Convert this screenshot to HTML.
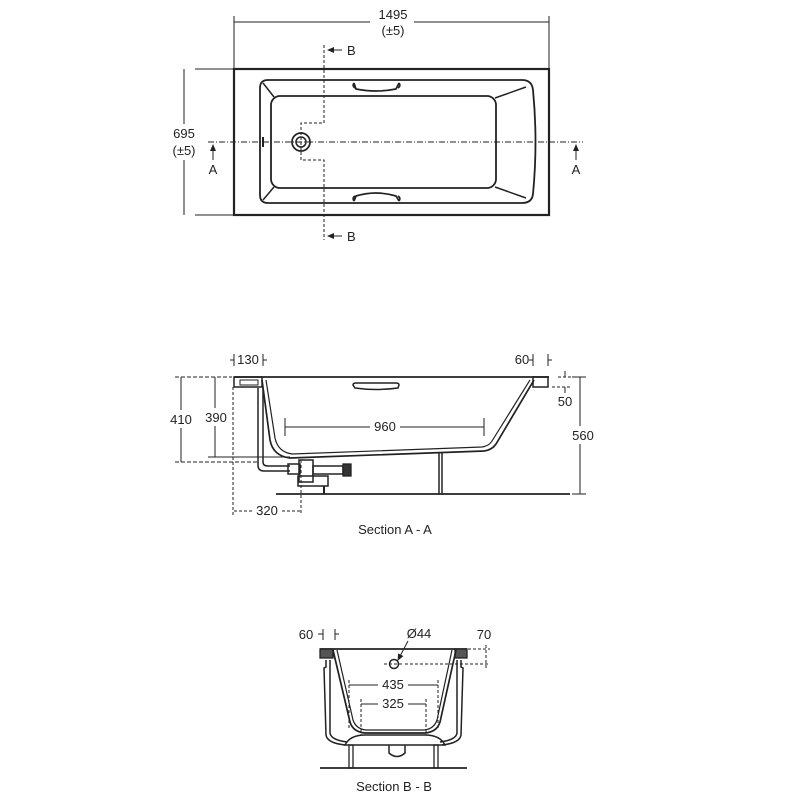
<!DOCTYPE html>
<html><head><meta charset="utf-8"><style>
html,body{margin:0;padding:0;background:#fff;}
svg{display:block;}
text{font-family:"Liberation Sans",Arial,sans-serif;font-size:13px;fill:#222;}
</style></head><body>
<svg width="800" height="800" viewBox="0 0 800 800" xmlns="http://www.w3.org/2000/svg">
<defs>
<marker id="ar" markerWidth="8" markerHeight="8" refX="6" refY="3" orient="auto"><path d="M0,0 L7,3 L0,6 z" fill="#222"/></marker>
</defs>
<g stroke="#222" fill="none" stroke-width="1">
<!-- TOP VIEW -->
<line x1="234" y1="16" x2="234" y2="68"/><line x1="549" y1="16" x2="549" y2="68"/>
<line x1="234" y1="22" x2="370" y2="22"/><line x1="414" y1="22" x2="549" y2="22"/>
<rect x="234" y="69" width="315" height="146" stroke-width="2.2"/>
<path d="M268,80 L522,80 Q532,80 533,90 Q538,142 533,194 Q532,203 522,203 L268,203 Q260,203 260,195 L260,88 Q260,80 268,80 Z" stroke-width="1.8"/>
<rect x="271" y="96" width="225" height="92" rx="9" stroke-width="1.8"/>
<line x1="263" y1="83" x2="274" y2="97" stroke-width="1.5"/><line x1="263" y1="200" x2="274" y2="187" stroke-width="1.5"/>
<line x1="495" y1="98" x2="526" y2="87" stroke-width="1.5"/><line x1="495" y1="187" x2="526" y2="198" stroke-width="1.5"/>
<path d="M354,83 L356,89 Q376,93 396,89 L399,83 M354,83 Q352,86 355,88 M399,83 Q401,86 398,88" stroke-width="1.7"/>
<path d="M354,201 L356,196 Q376,190 396,196 L399,201 M354,201 Q352,198 355,196 M399,201 Q401,198 398,196" stroke-width="1.7"/>
<circle cx="301" cy="142" r="9" stroke-width="1.7"/><circle cx="301" cy="142" r="5" stroke-width="1.5"/>
<line x1="263" y1="137" x2="263" y2="147" stroke-width="2"/>
<line x1="208" y1="142" x2="583" y2="142" stroke-dasharray="6,2,1,2"/>
<path d="M324,45 L324,123 L301,123 L301,160 L324,160 L324,240" stroke-dasharray="3,2"/>
<line x1="342" y1="50" x2="328" y2="50" marker-end="url(#ar)"/>
<line x1="342" y1="236" x2="328" y2="236" marker-end="url(#ar)"/>
<line x1="195" y1="69" x2="233" y2="69"/><line x1="195" y1="215" x2="233" y2="215"/>
<line x1="184" y1="69" x2="184" y2="124"/><line x1="184" y1="160" x2="184" y2="215"/>
<line x1="213" y1="160" x2="213" y2="145" marker-end="url(#ar)"/>
<line x1="576" y1="160" x2="576" y2="145" marker-end="url(#ar)"/>
</g>
<text x="393" y="19" text-anchor="middle">1495</text>
<text x="393" y="35" text-anchor="middle">(±5)</text>
<text x="347" y="55">B</text><text x="347" y="241">B</text>
<text x="184" y="138" text-anchor="middle">695</text>
<text x="184" y="155" text-anchor="middle">(±5)</text>
<text x="213" y="174" text-anchor="middle">A</text><text x="576" y="174" text-anchor="middle">A</text>

<g stroke="#222" fill="none" stroke-width="1">
<!-- SECTION A-A -->
<line x1="234" y1="377" x2="549" y2="377" stroke-width="1.7"/>
<rect x="234" y="377" width="28" height="10" stroke-width="1.5"/>
<rect x="240" y="380" width="18" height="5"/>
<rect x="533" y="377" width="15" height="10" stroke-width="1.5"/>
<path d="M262,380 L270,440 Q273,456 290,458 L484,451 Q492,450 496,444 L534,380" stroke-width="1.7"/>
<path d="M266,380 L275,438 Q278,452 292,454 L482,447 Q489,446 492,441 L530,380" stroke-width="1.2"/>
<path d="M258,388 L258,465 Q258,471 264,471 L290,471" stroke-width="1.5"/>
<path d="M263,388 L263,462 Q263,466 268,466 L290,466" stroke-width="1.5"/>
<rect x="288" y="464" width="12" height="10" stroke-width="1.5"/>
<rect x="299" y="460" width="14" height="22" stroke-width="1.5"/>
<rect x="298" y="476" width="30" height="10" stroke-width="1.5"/>
<rect x="313" y="466" width="30" height="8" stroke-width="1.5"/>
<rect x="343" y="464" width="8" height="12" stroke-width="1.3" fill="#333"/>
<line x1="324" y1="486" x2="324" y2="494" stroke-width="2"/>
<line x1="276" y1="494" x2="570" y2="494" stroke-width="1.7"/>
<line x1="439" y1="452" x2="439" y2="494" stroke-width="1.5"/><line x1="442" y1="452" x2="442" y2="494" stroke-width="1.5"/>
<path d="M353,385 Q353,383 356,383 L396,383 Q399,383 399,385 L398,388 Q376,391 355,388 Z" stroke-width="1.5"/>
<line x1="175" y1="377" x2="232" y2="377" stroke-dasharray="4,2"/>
<line x1="175" y1="462" x2="258" y2="462" stroke-dasharray="4,2"/>
<line x1="181" y1="377" x2="181" y2="410"/><line x1="181" y1="428" x2="181" y2="462"/>
<line x1="208" y1="457" x2="290" y2="457"/>
<line x1="215" y1="377" x2="215" y2="408"/><line x1="215" y1="426" x2="215" y2="457"/>
<line x1="285" y1="418" x2="285" y2="436"/><line x1="484" y1="418" x2="484" y2="436"/>
<line x1="285" y1="427" x2="370" y2="427"/><line x1="400" y1="427" x2="484" y2="427"/>
<line x1="234" y1="354" x2="234" y2="366"/><line x1="263" y1="354" x2="263" y2="366"/>
<line x1="230" y1="360" x2="234" y2="360"/><line x1="263" y1="360" x2="267" y2="360"/>
<line x1="533" y1="354" x2="533" y2="366"/><line x1="548" y1="354" x2="548" y2="366"/>
<line x1="529" y1="360" x2="533" y2="360"/><line x1="548" y1="360" x2="552" y2="360"/>
<line x1="565" y1="371" x2="565" y2="377"/><line x1="565" y1="387" x2="565" y2="393"/>
<line x1="558" y1="377" x2="572" y2="377" stroke-dasharray="3,2"/><line x1="552" y1="387" x2="572" y2="387" stroke-dasharray="3,2"/>
<line x1="572" y1="377" x2="586" y2="377"/><line x1="572" y1="494" x2="586" y2="494"/>
<line x1="580" y1="377" x2="580" y2="426"/><line x1="580" y1="444" x2="580" y2="494"/>
<line x1="233" y1="387" x2="233" y2="515" stroke-dasharray="3,2"/>
<line x1="301" y1="460" x2="301" y2="515" stroke-dasharray="3,2"/>
<line x1="234" y1="511" x2="252" y2="511" stroke-dasharray="3,2"/><line x1="282" y1="511" x2="301" y2="511" stroke-dasharray="3,2"/>
</g>
<text x="248" y="364" text-anchor="middle">130</text>
<text x="522" y="364" text-anchor="middle">60</text>
<text x="565" y="406" text-anchor="middle">50</text>
<text x="181" y="424" text-anchor="middle">410</text>
<text x="216" y="422" text-anchor="middle">390</text>
<text x="385" y="431" text-anchor="middle">960</text>
<text x="583" y="440" text-anchor="middle">560</text>
<text x="267" y="515" text-anchor="middle">320</text>
<text x="395" y="534" text-anchor="middle">Section A - A</text>

<g stroke="#222" fill="none" stroke-width="1">
<!-- SECTION B-B -->
<line x1="320" y1="649" x2="467" y2="649" stroke-width="1.7"/>
<rect x="320" y="649" width="13" height="9" stroke-width="1.3" fill="#555"/>
<rect x="455" y="649" width="12" height="9" stroke-width="1.3" fill="#555"/>
<path d="M333,650 L350,722 Q353,732 365,733 L425,733 Q437,732 440,722 L456,650" stroke-width="1.7"/>
<path d="M337,650 L353,720 Q356,729 366,730 L424,730 Q434,729 437,720 L452,650" stroke-width="1.2"/>
<path d="M326,660 L326,667 L324,668 L326,735 Q327,743 345,745 M330,660 L330,668 L330,733 Q331,740 347,742" stroke-width="1.5"/>
<path d="M461,660 L461,667 L463,668 L461,735 Q460,743 442,745 M457,660 L457,668 L457,733 Q456,740 440,742" stroke-width="1.5"/>
<path d="M345,745 Q350,735 365,735 L425,735 Q440,735 445,745 L345,745 Z" stroke-width="1.5"/>
<rect x="349" y="745" width="4" height="23" stroke-width="1.3"/><rect x="434" y="745" width="4" height="23" stroke-width="1.3"/>
<path d="M389,745 L389,753 Q397,760 405,753 L405,745" stroke-width="1.5"/>
<line x1="320" y1="768" x2="467" y2="768" stroke-width="1.7"/>
<circle cx="394" cy="664" r="4.5" stroke-width="1.5"/>
<line x1="384" y1="664" x2="404" y2="664" stroke-dasharray="3,2"/>
<line x1="408" y1="641" x2="398" y2="660" marker-end="url(#ar)"/>
<line x1="458" y1="649" x2="490" y2="649" stroke-dasharray="3,2"/>
<line x1="405" y1="664" x2="490" y2="664" stroke-dasharray="3,2"/>
<line x1="486" y1="645" x2="486" y2="668" stroke-dasharray="3,2"/>
<line x1="323" y1="629" x2="323" y2="640"/><line x1="335" y1="629" x2="335" y2="640"/>
<line x1="318" y1="634" x2="323" y2="634"/><line x1="335" y1="634" x2="339" y2="634"/>
<line x1="349" y1="680" x2="349" y2="730" stroke-dasharray="3,2"/><line x1="438" y1="680" x2="438" y2="730" stroke-dasharray="3,2"/>
<line x1="349" y1="685" x2="378" y2="685"/><line x1="408" y1="685" x2="438" y2="685"/>
<line x1="361" y1="699" x2="361" y2="735" stroke-dasharray="3,2"/><line x1="426" y1="699" x2="426" y2="735" stroke-dasharray="3,2"/>
<line x1="361" y1="704" x2="378" y2="704"/><line x1="408" y1="704" x2="426" y2="704"/>
</g>
<text x="306" y="639" text-anchor="middle">60</text>
<text x="419" y="638" text-anchor="middle">Ø44</text>
<text x="484" y="639" text-anchor="middle">70</text>
<text x="393" y="689" text-anchor="middle">435</text>
<text x="393" y="708" text-anchor="middle">325</text>
<text x="394" y="791" text-anchor="middle">Section B - B</text>
</svg>
</body></html>
